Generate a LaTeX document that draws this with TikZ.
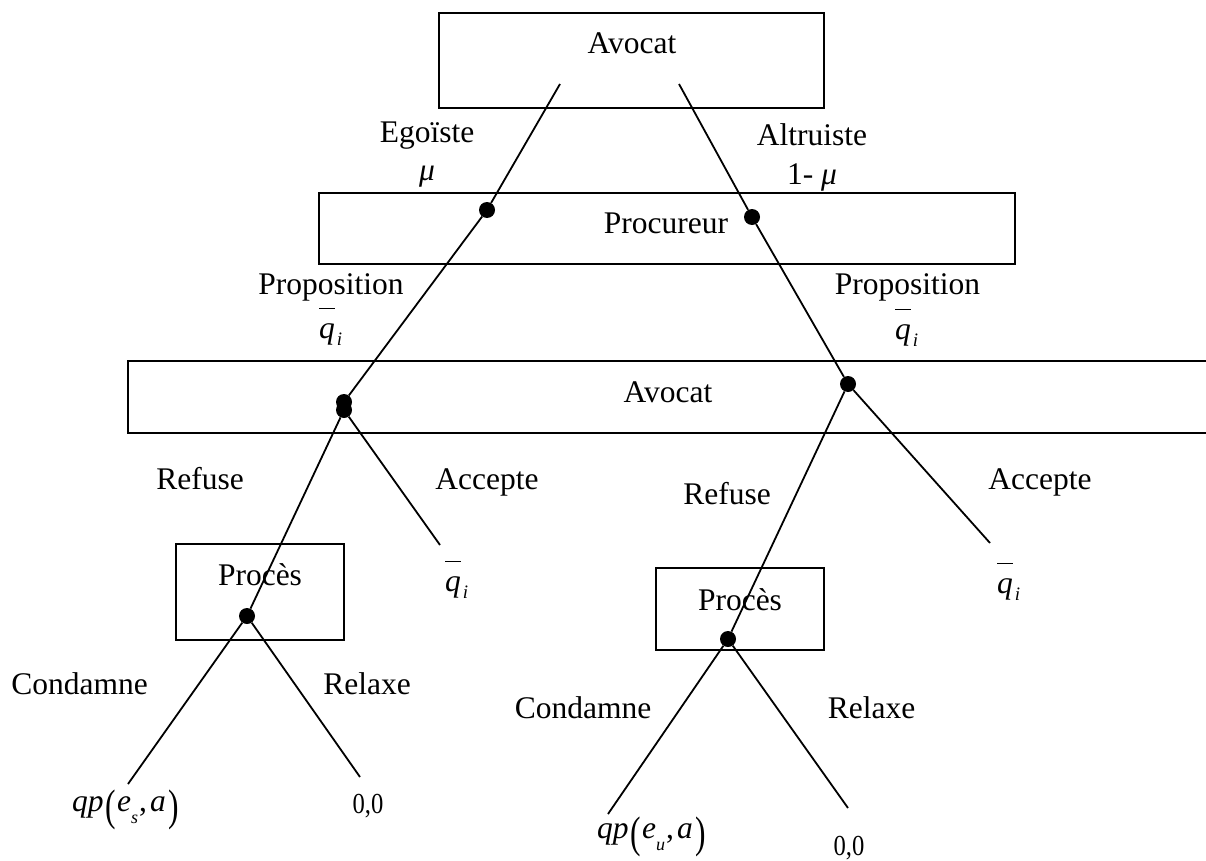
\documentclass[tikz,border=0pt]{standalone}
\usepackage{fontspec}
\setmainfont{Liberation Serif}
\usepackage{tikz}
\usetikzlibrary{positioning}

\newcommand{\qbar}{\rlap{\raisebox{29pt}{\rule{16pt}{1.3pt}}}\textit{q}\kern2pt\raisebox{-7pt}{\fontsize{19}{19}\selectfont\textit{i}}}
\newcommand{\bigpar}[1]{\raisebox{-9pt}{\scalebox{1}[1.4]{#1}}}
\newcommand{\payoff}[1]{\textit{qp}\kern2pt\bigpar{(}\kern1pt\textit{e}\raisebox{-12pt}{\fontsize{18}{18}\selectfont\textit{#1}}\kern1pt,\kern3pt\textit{a}\kern3pt\bigpar{)}}

\begin{document}
\begin{tikzpicture}[x=1pt,y=-1pt,font=\fontsize{31.5}{36}\selectfont]
		\tikzset{box/.style = {draw,rectangle,line width=1.2pt,inner sep=0pt}}
		\tikzset{dot/.style = {shape=circle,fill,inner sep=0pt,minimum size=16pt}}
		\tikzset{lbl/.style = {inner sep=0pt,anchor=base}}
		\tikzset{qlbl/.style = {inner sep=0pt,anchor=base west}}
		\tikzset{pay/.style = {inner sep=0pt,anchor=base,font=\fontsize{29}{30}\selectfont}}
		\tikzset{branch/.style = {line width=1.8pt}}
		\useasboundingbox (0,0) rectangle (1206,861);
		\clip (0,0) rectangle (1206,861);
			% boxes
			\node[box,minimum width=385pt,minimum height=95pt] (ba) at (631.5,60.5) {};
			\node[box,minimum width=696pt,minimum height=71pt] (bp) at (667,228.5) {};
			\node[box,minimum width=1087pt,minimum height=72pt] (bb) at (671.5,397) {};
			\node[box,minimum width=168pt,minimum height=96pt] (bt) at (260,592) {};
			\node[box,minimum width=168pt,minimum height=82pt] (bu) at (740,609) {};
			\node[lbl] (ta) at (632,54) {Avocat};
			\node[lbl] (tp) at (666,233) {Procureur};
			\node[lbl] (tb) at (668,402) {Avocat};
			\node[lbl] (tt) at (260,585) {Procès};
			\node[lbl] (tu) at (740,610) {Procès};
			% decision points
			\node[dot] (d) at (487,210) {};
			\node[dot] (e) at (752,217) {};
			\node[dot] (h) at (344,402) {};
			\node[dot] (i) at (344,410) {};
			\node[dot] (j) at (848,384) {};
			\node[dot] (l) at (247,616) {};
			\node[dot] (m) at (728,639) {};
			% free ends
			\coordinate (a1) at (560,84);
			\coordinate (a2) at (679,84);
			\coordinate (k) at (440,545);
			\coordinate (n) at (990,543);
			\coordinate (o) at (128,784);
			\coordinate (p) at (360,777);
			\coordinate (q) at (608,814);
			\coordinate (r) at (848,808);
			% branches
			\draw[branch] (a1) -- (d) -- (h);
			\draw[branch] (a2) -- (e) -- (j);
			\draw[branch] (i) -- (l);
			\draw[branch] (i) -- (k);
			\draw[branch] (j) -- (m);
			\draw[branch] (j) -- (n);
			\draw[branch] (l) -- (o);
			\draw[branch] (l) -- (p);
			\draw[branch] (m) -- (q);
			\draw[branch] (m) -- (r);
			% labels
			\node[lbl] (eg) at (427,143) {Egoïste};
			\node[lbl] (mu) at (427,181) {\textit{μ}};
			\node[lbl] (al) at (812,146) {Altruiste};
			\node[lbl] (mv) at (812,184) {1- \textit{μ}};
			\node[lbl] (pa) at (331,294) {Proposition};
			\node[qlbl] (qa) at (319,338) {\qbar};
			\node[lbl] (pb) at (907.5,294) {Proposition};
			\node[qlbl] (qb) at (895,339) {\qbar};
			\node[lbl] (ra) at (200,489) {Refuse};
			\node[lbl] (aa) at (487,489) {Accepte};
			\node[lbl] (rb) at (727,504) {Refuse};
			\node[lbl] (ab) at (1040,489) {Accepte};
			\node[qlbl] (qc) at (445,591) {\qbar};
			\node[qlbl] (qd) at (997,593) {\qbar};
			\node[lbl] (ca) at (79.5,694) {Condamne};
			\node[lbl] (xa) at (367,694) {Relaxe};
			\node[lbl] (cb) at (583,718) {Condamne};
			\node[lbl] (xb) at (871.5,718) {Relaxe};
			\node[qlbl] (ga) at (72,811) {\payoff{s}};
			\node[pay] (za) at (368,813) {\scalebox{0.85}[1]{0,0}};
			\node[qlbl] (gb) at (597,838) {\payoff{u}};
			\node[pay] (zb) at (849,855) {\scalebox{0.85}[1]{0,0}};
		\end{tikzpicture}
\end{document}
